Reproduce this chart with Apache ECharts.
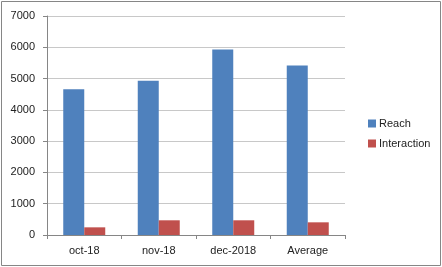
<!DOCTYPE html>
<html><head><meta charset="utf-8">
<script src="https://cdn.jsdelivr.net/npm/echarts@6/dist/echarts.min.js"></script>
<style>html,body{margin:0;padding:0;background:#fff}#c{width:442px;height:267px}</style>
</head><body><div id="c"></div>
<script>
const categories = ['oct-18', 'nov-18', 'dec-2018', 'Average'];
const reach = [4660, 4930, 5930, 5420];
const interaction = [245, 470, 470, 405];
const yTicks = [0, 1000, 2000, 3000, 4000, 5000, 6000, 7000];

const chart = echarts.init(document.getElementById('c'), null, {renderer: 'canvas'});
const font = 'Liberation Sans, Arial, sans-serif';
chart.setOption({
  animation: false,
  backgroundColor: '#fff',
  graphic: [{type: 'rect', shape: {x: 1.5, y: 1.5, width: 439, height: 264}, style: {fill: 'none', stroke: '#868686', lineWidth: 1}, silent: true}],
  grid: {left: 47, right: 97, top: 16, bottom: 32},
  legend: {
    orient: 'vertical', left: 363, top: 113, itemWidth: 8, itemHeight: 8, itemGap: 9,
    icon: 'rect',
    textStyle: {fontFamily: font, fontSize: 11, color: '#222', padding: [0, 0, 0, -2]},
    data: ['Reach', 'Interaction']
  },
  xAxis: {
    type: 'category', data: categories,
    axisLine: {lineStyle: {color: '#868686'}},
    axisTick: {show: true, length: 4, lineStyle: {color: '#868686'}},
    axisLabel: {fontFamily: font, fontSize: 11, color: '#222', margin: 10}
  },
  yAxis: {
    type: 'value', min: yTicks[0], max: yTicks[yTicks.length - 1], interval: 1000,
    axisLine: {show: true, lineStyle: {color: '#868686'}},
    axisTick: {show: true, length: 4, lineStyle: {color: '#868686'}},
    splitLine: {lineStyle: {color: '#c8c8c8'}},
    axisLabel: {fontFamily: font, fontSize: 11, color: '#222', margin: 12, formatter: v => String(v)}
  },
  series: [
    {name: 'Reach', type: 'bar', data: reach, barWidth: 21, barGap: '0%', itemStyle: {color: '#4f81bd'}},
    {name: 'Interaction', type: 'bar', data: interaction, barWidth: 21, itemStyle: {color: '#c0504d'}}
  ]
});
</script></body></html>
